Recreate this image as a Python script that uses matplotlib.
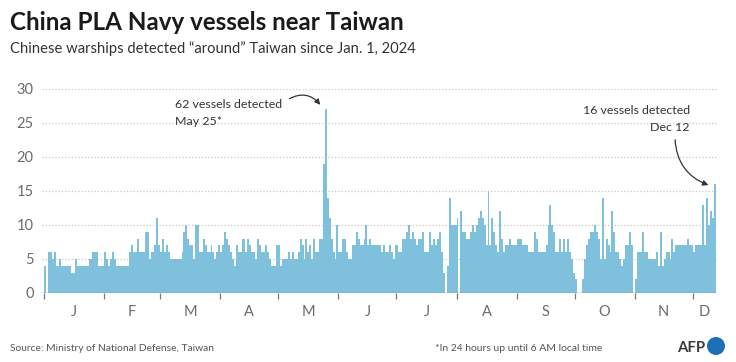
import matplotlib
matplotlib.use("Agg")
import matplotlib.pyplot as plt
from matplotlib.patches import Ellipse
import numpy as np

plt.rcParams['font.family'] = ['Lato', 'DejaVu Sans']

# ---- data (daily counts, Jan 1 - Dec 12, 2024) ----
jan = [4,0,6,6,5,6,4,4,5,4,4,4,4,4,3,3,5,4,4,4,4,4,4,5,5,6,6,6,4,4,4]
feb = [6,5,4,5,6,5,4,4,4,4,4,4,4,6,7,6,6,8,6,6,6,9,9,5,6,6,7,11,7]
mar = [6,8,6,7,6,5,5,5,5,5,5,6,9,10,8,7,7,5,10,10,6,6,8,7,6,6,7,6,5,6,7]
apr = [6,7,9,8,7,6,5,4,7,6,6,8,8,6,8,7,6,6,5,8,7,6,6,7,6,5,4,4,4,7]
may = [7,4,5,5,5,6,5,6,5,5,6,8,7,5,8,6,7,5,8,6,6,8,8,19,27,14,11,8,6,5,10]
jun = [6,6,8,8,6,5,5,7,7,9,8,7,7,8,10,7,8,7,7,7,7,7,6,7,6,6,7,6,5,7]
jul = [7,6,6,8,8,9,10,8,9,8,7,8,8,9,6,6,6,9,7,8,7,8,9,6,3,0,4,14,10,10,10]
aug = [11,0,12,9,9,8,8,9,10,9,10,11,12,11,10,7,15,7,11,9,7,6,12,8,6,7,7,8,7,7,7]
sep = [8,8,8,7,7,7,6,6,6,9,8,6,6,6,6,7,10,13,10,9,6,6,8,6,8,6,8,6,5,3]
octo = [2,0,0,0,2,5,7,8,9,9,10,9,8,5,14,5,8,7,6,12,9,6,6,5,4,5,7,7,9,7,0]
nov = [2,6,6,6,9,6,6,5,5,5,5,6,4,9,4,5,6,6,5,8,6,7,7,7,7,7,7,8,7,7]
dec = [6,7,7,7,7,13,7,14,10,12,11,16]

month_data = [jan, feb, mar, apr, may, jun, jul, aug, sep, octo, nov, dec]
month_labels = ['J', 'F', 'M', 'A', 'M', 'J', 'J', 'A', 'S', 'O', 'N', 'D']
yticks = [0, 5, 10, 15, 20, 25, 30]

values = np.concatenate([np.array(m) for m in month_data])
days = np.arange(len(values))
lengths = [len(m) for m in month_data]
starts = np.concatenate([[0], np.cumsum(lengths)[:-1]])
mids = starts + np.array(lengths) / 2.0

# ---- figure ----
W, H = 736, 362
fig = plt.figure(figsize=(W / 100, H / 100), dpi=100)
fig.patch.set_facecolor('white')

def fx(px):
    return px / W

def fy(py):
    return 1 - py / H

ax = fig.add_axes([fx(42), fy(293), fx(717) - fx(42), fy(89) - fy(293)])
ax.set_facecolor('none')

ax.bar(days, values, width=1.0, align='edge', color='#7fc0dc', zorder=3, linewidth=0)

n = len(values)
ax.set_xlim(-1.03, n + 0.5)
ax.set_ylim(0, 30)

for s in ax.spines.values():
    s.set_visible(False)

ax.set_yticks(yticks)
ax.set_yticklabels([str(v) for v in yticks])
ax.tick_params(axis='y', length=0, pad=6, labelsize=10.5, labelcolor='#6b6b6b')
for v in yticks[1:]:
    ax.axhline(v, color='#c9c9c9', lw=0.9, linestyle=(0, (1, 1.6)), zorder=1)
ax.axhline(0, color='#8a8a8a', lw=1.0, zorder=4)

ax.set_xticks(starts)
ax.set_xticklabels([''] * len(starts))
ax.tick_params(axis='x', which='major', length=4, width=0.9, color='#777777', direction='out')
ax.set_xticks(mids, minor=True)
ax.set_xticklabels(month_labels, minor=True)
ax.tick_params(axis='x', which='minor', length=0, pad=9, labelsize=10.5, labelcolor='#6b6b6b')

renderer = fig.canvas.get_renderer()

def fit(t, target_w):
    bb = t.get_window_extent(renderer)
    t.set_fontsize(t.get_fontsize() * target_w / bb.width)

# titles
t1 = fig.text(fx(10), fy(30), 'China PLA Navy vessels near Taiwan', fontsize=19,
              fontweight='bold', color='#1a1a1a', ha='left', va='baseline')
fit(t1, 393)
t2 = fig.text(fx(10), fy(53), 'Chinese warships detected \u201caround\u201d Taiwan since Jan. 1, 2024',
              fontsize=11, color='#333333', ha='left', va='baseline')
fit(t2, 403)

# annotations
a1 = fig.text(fx(175), fy(108), '62 vessels detected', fontsize=9.5, color='#333333',
              ha='left', va='baseline', zorder=6)
fit(a1, 108)
a2 = fig.text(fx(175), fy(125), 'May 25*', fontsize=a1.get_fontsize(), color='#333333',
              ha='left', va='baseline', zorder=6)
b1 = fig.text(fx(690), fy(114), '16 vessels detected', fontsize=a1.get_fontsize(), color='#333333',
              ha='right', va='baseline', zorder=6)
b2 = fig.text(fx(690), fy(131), 'Dec 12', fontsize=a1.get_fontsize(), color='#333333',
              ha='right', va='baseline', zorder=6)

def px2data(px, py):
    x0, x1 = ax.get_xlim()
    return (x0 + (px - 42) / (717 - 42) * (x1 - x0), (293 - py) / (293 - 89) * 30)

ax.annotate('', xy=px2data(322, 107), xytext=px2data(287, 100),
            arrowprops=dict(arrowstyle='-|>', color='#333333', lw=0.9,
                            connectionstyle='arc3,rad=-0.45', mutation_scale=8),
            annotation_clip=False, zorder=7)
ax.annotate('', xy=px2data(711, 186), xytext=px2data(675, 137),
            arrowprops=dict(arrowstyle='-|>', color='#333333', lw=0.9,
                            connectionstyle='arc3,rad=0.35', mutation_scale=8),
            annotation_clip=False, zorder=7)

# footer
f1 = fig.text(fx(10), fy(351), 'Source: Ministry of National Defense, Taiwan', fontsize=8,
              color='#555555', ha='left', va='baseline')
fit(f1, 206)
f2 = fig.text(fx(435), fy(351), '*In 24 hours up until 6 AM local time', fontsize=8,
              color='#555555', ha='left', va='baseline')
fit(f2, 169)
logo = fig.text(fx(705), fy(352), 'AFP', fontsize=12, fontweight='bold', color='#3a3a3a',
                ha='right', va='baseline')
fit(logo, 28)
fig.patches.append(Ellipse((fx(716), fy(346)), 18 / W, 18 / H, transform=fig.transFigure,
                           facecolor='#1f6fb8', edgecolor='none'))

fig.savefig('out.png', dpi=100, facecolor='white')
